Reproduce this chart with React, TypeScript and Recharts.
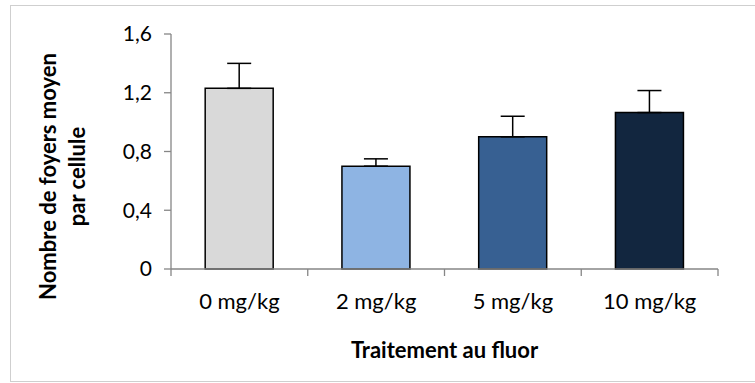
import { BarChart, Bar, XAxis, YAxis, Cell, ErrorBar, Label } from "recharts";

const doses = ["0 mg/kg", "2 mg/kg", "5 mg/kg", "10 mg/kg"];
const foyers = [1.23, 0.7, 0.9, 1.065];
const erreurs = [0.17, 0.05, 0.14, 0.15];
const couleurs = ["#D9D9D9", "#8EB4E3", "#376092", "#12263F"];
const yTicks = [0, 0.4, 0.8, 1.2, 1.6];

const data = doses.map((dose, i) => ({
  dose,
  valeur: foyers[i],
  err: [0, erreurs[i]],
}));

const font = "Lato, 'Open Sans', sans-serif";
const axisGrey = "#868686";
const xTickSize = 6;
const xTickMargin = 18;

// Excel-style category ticks: marks sit on the band edges, labels in the middle
function DoseTick(props: any) {
  const { x, y, payload, index, visibleTicksCount } = props;
  const half = payload?.offset ?? 0;
  const axisY = y - xTickSize - xTickMargin;
  const isLast = index === visibleTicksCount - 1;
  return (
    <g>
      <line x1={x - half} x2={x - half} y1={axisY} y2={axisY + 7} stroke={axisGrey} strokeWidth={1.3} />
      {isLast && (
        <line x1={x + half} x2={x + half} y1={axisY} y2={axisY + 7} stroke={axisGrey} strokeWidth={1.3} />
      )}
      <text x={x} y={y} dy="0.71em" textAnchor="middle" fontSize={22} fontFamily={font} fill="#000">
        {payload.value}
      </text>
    </g>
  );
}

function YTitle(props: any) {
  const vb = props.viewBox || {};
  const cy = vb.y + vb.height / 2 + 25;
  return (
    <text
      transform={`translate(0, ${cy}) rotate(-90)`}
      textAnchor="middle"
      fontFamily={font}
      fontWeight="bold"
      fontSize={22}
      fill="#000"
    >
      <tspan x={0} y={56}>Nombre de foyers moyen</tspan>
      <tspan x={0} y={85}>par cellule</tspan>
    </text>
  );
}

export default function App() {
  return (
    <div
      style={{
        position: "fixed",
        left: 0,
        top: 0,
        width: 755,
        height: 383,
        background: "#fff",
        overflow: "hidden",
      }}
    >
      <div
        style={{
          position: "absolute",
          left: 10,
          top: 5,
          width: 760,
          height: 375,
          border: "1.5px solid #CFCFCF",
        }}
      />
      <div style={{ position: "absolute", left: 0, top: 0 }}>
        <BarChart
          width={755}
          height={383}
          data={data}
          margin={{ top: 34, right: 37, left: 0, bottom: 0 }}
          barCategoryGap="25%"
        >
          <XAxis
            dataKey="dose"
            height={114}
            stroke={axisGrey}
            strokeWidth={1.3}
            tickLine={false}
            tickSize={xTickSize}
            tickMargin={xTickMargin}
            tick={<DoseTick />}
          >
            <Label
              value="Traitement au fluor"
              position="insideBottom"
              offset={25}
              style={{ fontSize: 22, fontWeight: "bold", fill: "#000", fontFamily: font }}
            />
          </XAxis>
          <YAxis
            width={171}
            domain={[0, 1.6]}
            ticks={yTicks}
            interval={0}
            tickFormatter={(v: number) => (v === 0 ? "0" : v.toFixed(1).replace(".", ","))}
            stroke={axisGrey}
            strokeWidth={1.3}
            tickSize={7}
            tickMargin={12}
            tick={{ fontSize: 21, fill: "#000", fontFamily: font }}
          >
            <Label content={<YTitle />} />
          </YAxis>
          <Bar dataKey="valeur" stroke="#000" strokeWidth={1.5} isAnimationActive={false}>
            {data.map((_, i) => (
              <Cell key={i} fill={couleurs[i]} />
            ))}
            <ErrorBar dataKey="err" direction="y" width={12} stroke="#000" strokeWidth={1.5} />
          </Bar>
        </BarChart>
      </div>
    </div>
  );
}
